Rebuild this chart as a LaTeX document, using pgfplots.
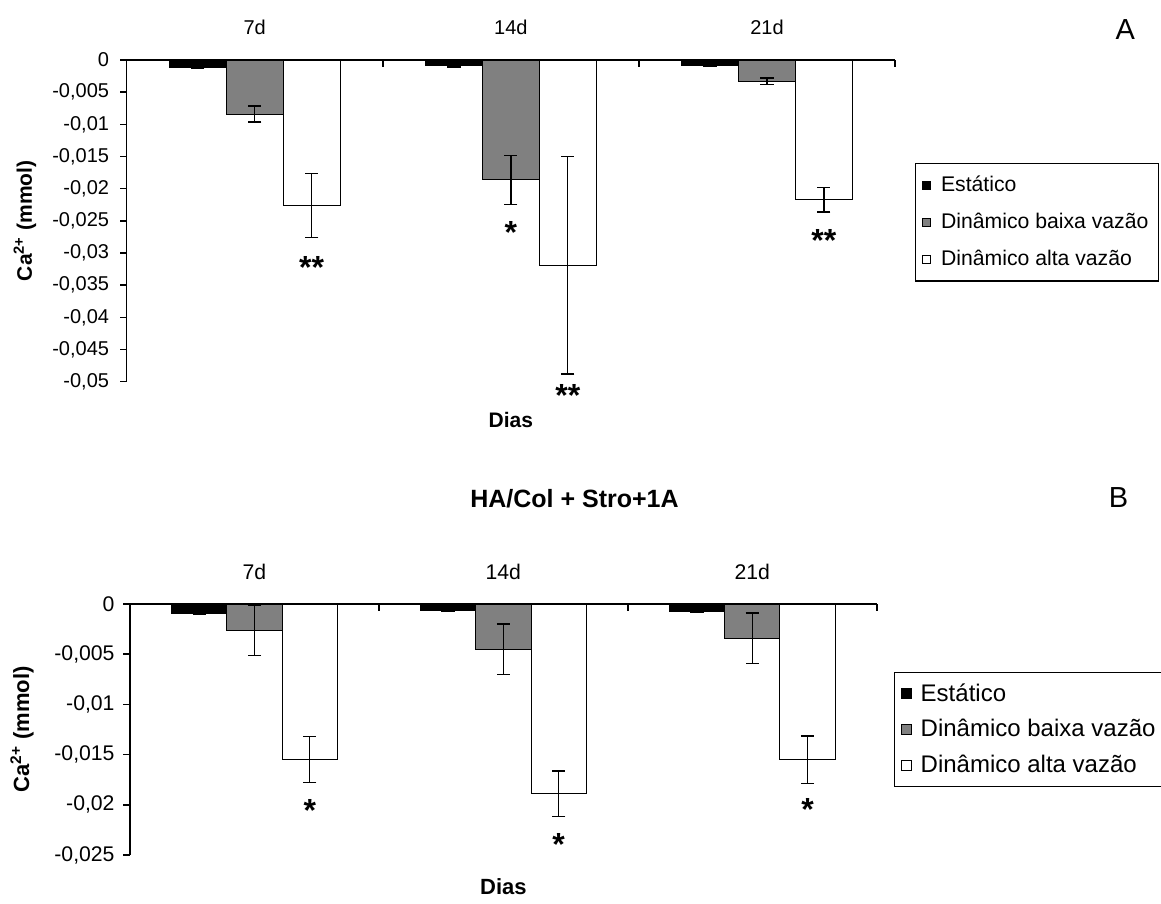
\documentclass[border=0pt]{standalone}
\usepackage{fontspec}
\setmainfont{Liberation Sans}
\usepackage{pgfplots}
\pgfplotsset{compat=1.18}
\definecolor{barg}{HTML}{808080}

\pgfplotsset{
  mybars/.style={
    scale only axis,
    ybar=0pt,
    xmin=-0.5, xmax=2.5,
    axis x line*=top, axis y line*=left,
    xtick={0,1,2}, xticklabels={7d,14d,21d},
    tick align=outside,
    major tick length=3.3pt,
    x tick style={draw=none},
    y tick style={black, line width=0.8pt},
    axis line style={black, line width=0.8pt},
    scaled y ticks=false,
    /pgf/number format/use comma,
    /pgf/number format/fixed,
    /pgf/number format/precision=3,
    /pgf/number format/assume math mode=true,
    clip=false,
    legend cell align=left,
    legend image code/.code={\draw[#1] (0pt,-2.2pt) rectangle (4.4pt,2.2pt);},
  },
  bk/.style={fill=black, draw=black, line width=0.5pt,
    error bars/.cd, y dir=both, y explicit,
    error bar style={line width=0.7pt, black},
    error mark options={rotate=90, mark size=3.3pt, line width=0.7pt, black}},
  gr/.style={fill=barg, draw=black, line width=0.5pt,
    error bars/.cd, y dir=both, y explicit,
    error bar style={line width=0.7pt, black},
    error mark options={rotate=90, mark size=3.3pt, line width=0.7pt, black}},
  wh/.style={fill=white, draw=black, line width=0.5pt,
    error bars/.cd, y dir=both, y explicit,
    error bar style={line width=0.7pt, black},
    error mark options={rotate=90, mark size=3.3pt, line width=0.7pt, black}},
}

\begin{document}
\begin{tikzpicture}
\path[use as bounding box] (0,0) rectangle (580.5pt,-452pt);

% ---------------- Panel A ----------------
\begin{axis}[mybars,
  at={(63.35pt,-30pt)}, anchor=north west,
  width=384.15pt, height=160.85pt,
  bar width=28.45pt,
  ymin=-0.05, ymax=0,
  ytick={-0.05,-0.045,-0.04,-0.035,-0.03,-0.025,-0.02,-0.015,-0.01,-0.005,0},
  tick label style={font=\fontsize{10}{11}\selectfont},
  xticklabel style={yshift=5.8pt},
  yticklabel style={xshift=-2.0pt},
  every axis y label/.style={at={(axis description cs:-0.1324,0.5)}, rotate=90, anchor=center, font=\fontsize{10.5}{12}\selectfont\bfseries},
  every axis x label/.style={at={(axis description cs:0.5,-0.119)}, anchor=center, font=\fontsize{10.5}{12}\selectfont\bfseries},
  ylabel={Ca\textsuperscript{2+} (mmol)},
  xlabel={Dias},
  legend style={at={(axis description cs:1.0260,0.6798)}, anchor=north west,
    draw=black, line width=0.7pt, font=\fontsize{10.6}{11}\selectfont,
    inner xsep=3pt, inner ysep=4.2pt, row sep=5.3pt,
    /tikz/every odd column/.append style={column sep=2.8pt}},
]
\addplot[bk] coordinates {(0,-0.0012) +- (0,0.0001) (1,-0.0009) +- (0,0.0002) (2,-0.0009) +- (0,0.0001)};
\addplot[gr] coordinates {(0,-0.0084) +- (0,0.00125) (1,-0.01865) +- (0,0.0038) (2,-0.0033) +- (0,0.0005)};
\addplot[wh] coordinates {(0,-0.0226) +- (0,0.0050) (1,-0.0319) +- (0,0.0169) (2,-0.0217) +- (0,0.0019)};
\legend{Estático, Dinâmico baixa vazão, Dinâmico alta vazão}
\draw[line width=0.8pt] (axis cs:0.5,0) -- ++(0pt,-3.3pt);
\draw[line width=0.8pt] (axis cs:1.5,0) -- ++(0pt,-3.3pt);
\draw[line width=0.8pt] (axis cs:2.5,0) -- ++(0pt,-3.3pt);
\node[font=\fontsize{16}{16}\selectfont\bfseries, anchor=base, yshift=-9.2pt] at (axis cs:0.2222,-0.0311) {**};
\node[font=\fontsize{16}{16}\selectfont\bfseries, anchor=base, yshift=-9.2pt] at (axis cs:1,-0.02565) {*};
\node[font=\fontsize{16}{16}\selectfont\bfseries, anchor=base, yshift=-9.2pt] at (axis cs:1.2222,-0.0510) {**};
\node[font=\fontsize{16}{16}\selectfont\bfseries, anchor=base, yshift=-9.2pt] at (axis cs:2.2222,-0.0269) {**};
\end{axis}

% ---------------- Panel B ----------------
\begin{axis}[mybars,
  at={(65pt,-302pt)}, anchor=north west,
  width=373.35pt, height=125.5pt,
  bar width=27.65pt,
  ymin=-0.025, ymax=0,
  ytick={-0.025,-0.02,-0.015,-0.01,-0.005,0},
  tick label style={font=\fontsize{10.6}{12}\selectfont},
  xticklabel style={yshift=5.5pt},
  yticklabel style={xshift=-0.9pt},
  every axis y label/.style={at={(axis description cs:-0.1446,0.5)}, rotate=90, anchor=center, font=\fontsize{11}{13}\selectfont\bfseries},
  every axis x label/.style={at={(axis description cs:0.5,-0.1275)}, anchor=center, font=\fontsize{11}{13}\selectfont\bfseries},
  ylabel={Ca\textsuperscript{2+} (mmol)},
  xlabel={Dias},
  legend image code/.code={\draw[#1] (0pt,-2.5pt) rectangle (5pt,2.5pt);},
  legend style={at={(axis description cs:1.0232,0.7303)}, anchor=north west,
    draw=black, line width=0.7pt, font=\fontsize{12}{12}\selectfont,
    inner xsep=3pt, inner ysep=3.5pt, row sep=3.6pt,
    /tikz/every odd column/.append style={column sep=2.5pt}},
]
\addplot[bk] coordinates {(0,-0.0009) +- (0,0.0001) (1,-0.0006) +- (0,0.0001) (2,-0.0007) +- (0,0.0001)};
\addplot[gr] coordinates {(0,-0.0026) +- (0,0.0025) (1,-0.0045) +- (0,0.0025) (2,-0.0034) +- (0,0.0025)};
\addplot[wh] coordinates {(0,-0.0155) +- (0,0.0023) (1,-0.0189) +- (0,0.00225) (2,-0.0155) +- (0,0.00235)};
\legend{Estático, Dinâmico baixa vazão, Dinâmico alta vazão}
\draw[line width=0.8pt] (axis cs:0.5,0) -- ++(0pt,-3.3pt);
\draw[line width=0.8pt] (axis cs:1.5,0) -- ++(0pt,-3.3pt);
\draw[line width=0.8pt] (axis cs:2.5,0) -- ++(0pt,-3.3pt);
\node[font=\fontsize{16}{16}\selectfont\bfseries, anchor=base, yshift=-9.2pt] at (axis cs:0.2222,-0.01985) {*};
\node[font=\fontsize{16}{16}\selectfont\bfseries, anchor=base, yshift=-9.2pt] at (axis cs:1.2222,-0.0232) {*};
\node[font=\fontsize{16}{16}\selectfont\bfseries, anchor=base, yshift=-9.2pt] at (axis cs:2.2222,-0.0197) {*};
\end{axis}

\node[font=\fontsize{12.5}{14}\selectfont\bfseries] at (287.25pt,-249.15pt) {HA/Col + Stro+1A};
\node[font=\fontsize{14.5}{16}\selectfont] at (562.7pt,-15pt) {A};
\node[font=\fontsize{14.5}{16}\selectfont] at (559.3pt,-249pt) {B};
\end{tikzpicture}
\end{document}
